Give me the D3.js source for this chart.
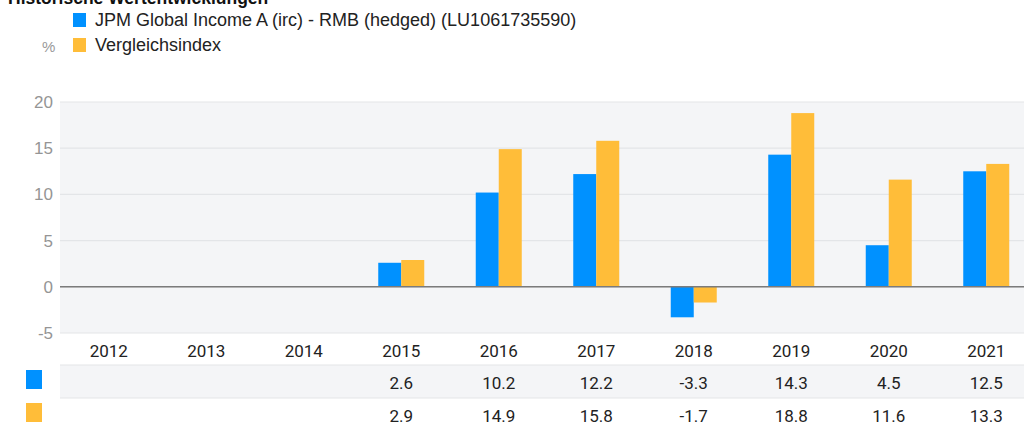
<!DOCTYPE html>
<html><head><meta charset="utf-8">
<script src="https://cdn.jsdelivr.net/npm/d3@7"></script>
<style>body{margin:0;background:#fff;} svg{display:block;font-family:Roboto, "Liberation Sans", sans-serif;}</style>
</head><body>
<svg id="c" width="1024" height="426"></svg>
<script>
const years = ["2012","2013","2014","2015","2016","2017","2018","2019","2020","2021"];
const fund = [null,null,null,2.6,10.2,12.2,-3.3,14.3,4.5,12.5];
const bench = [null,null,null,2.9,14.9,15.8,-1.7,18.8,11.6,13.3];
const yTicks = [-5,0,5,10,15,20];
const seriesNames = ["JPM Global Income A (irc) - RMB (hedged) (LU1061735590)","Vergleichsindex"];
const colors = ["#0091ff","#ffbd39"];

(function(){
const svg = d3.select("#c");
const pL = 60, pR = 1035, pT = 102, pB = 333;
const x = d3.scaleBand().domain(years).range([pL, pR]);
const y = d3.scaleLinear().domain([-5,20]).range([pB, pT]);
const barW = 23;

// title (cut off at the top as in the reference)
svg.append("text").attr("x",8).attr("y",4).attr("font-weight","bold").attr("font-size",17.5)
  .attr("fill","#111").attr("font-family","'Liberation Sans', sans-serif").text("Historische Wertentwicklungen");

// legend
seriesNames.forEach((n,i)=>{
  const yy = 13 + i*25;
  svg.append("rect").attr("x",73).attr("y",yy).attr("width",13).attr("height",14).attr("fill",colors[i]);
  svg.append("text").attr("x",95).attr("y",yy+13).attr("font-size",18).attr("fill","#222")
    .attr("font-family","'Liberation Sans', sans-serif").text(n);
});
svg.append("text").attr("x",42).attr("y",52).attr("font-size",15).attr("fill","#999")
  .attr("font-family","'Liberation Sans', sans-serif").text("%");

// plot bg
svg.append("rect").attr("x",pL).attr("y",pT).attr("width",1024-pL).attr("height",pB-pT).attr("fill","#f4f5f7");
// grid
svg.append("g").selectAll("line").data(yTicks).join("line")
  .attr("x1",pL).attr("x2",1024).attr("y1",d=>y(d)).attr("y2",d=>y(d))
  .attr("stroke","#e3e5e8").attr("stroke-width",1.2);
// y labels
svg.append("g").selectAll("text").data(yTicks).join("text")
  .attr("x",53).attr("y",d=>y(d)+6).attr("text-anchor","end").attr("font-size",17).attr("fill","#959595")
  .attr("font-family","'Liberation Sans', sans-serif").text(d=>d);

// bars
[fund,bench].forEach((s,si)=>{
  svg.append("g").selectAll("rect").data(years.map((yr,i)=>({yr,v:s[i]})).filter(d=>d.v!==null)).join("rect")
    .attr("x",d=>x(d.yr)+x.bandwidth()/2 - barW + si*barW)
    .attr("width",barW)
    .attr("y",d=>y(Math.max(0,d.v)))
    .attr("height",d=>Math.abs(y(d.v)-y(0)))
    .attr("fill",colors[si]);
});
// zero line
svg.append("line").attr("x1",pL).attr("x2",1024).attr("y1",y(0)).attr("y2",y(0)).attr("stroke","#7b7b7b").attr("stroke-width",1.5);

// table
svg.append("g").selectAll("text").data(years).join("text")
  .attr("x",d=>x(d)+x.bandwidth()/2).attr("y",357).attr("text-anchor","middle").attr("font-size",17).attr("fill","#222").text(d=>d);
svg.append("rect").attr("x",pL).attr("y",365).attr("width",1024-pL).attr("height",33).attr("fill","#f4f5f7");
[365,398].forEach(v=>svg.append("line").attr("x1",pL).attr("x2",1024).attr("y1",v).attr("y2",v).attr("stroke","#e3e5e8").attr("stroke-width",1.2));
[fund,bench].forEach((s,si)=>{
  const by = 389 + si*33;
  svg.append("rect").attr("x",26).attr("y",370+si*33).attr("width",16).attr("height",19).attr("fill",colors[si]);
  svg.append("g").selectAll("text").data(years.map((yr,i)=>({yr,v:s[i]})).filter(d=>d.v!==null)).join("text")
    .attr("x",d=>x(d.yr)+x.bandwidth()/2).attr("y",by).attr("text-anchor","middle").attr("font-size",17).attr("fill","#222")
    .text(d=>d.v.toFixed(1));
});
})();
</script>
</body></html>
